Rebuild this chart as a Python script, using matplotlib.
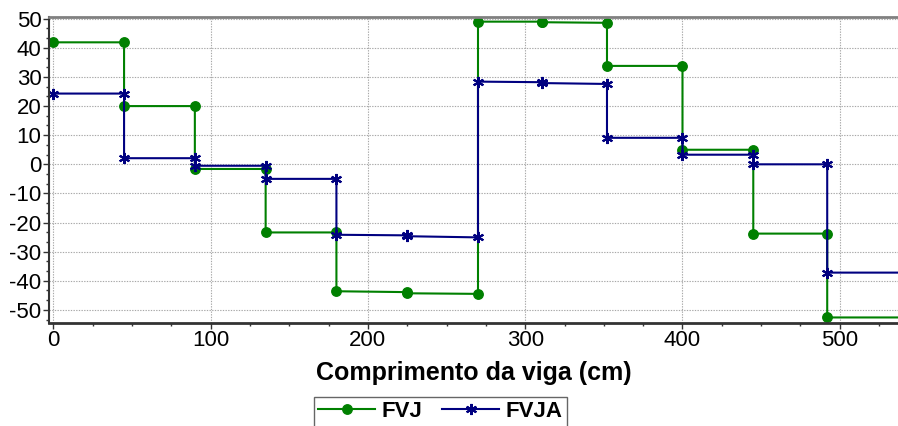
import numpy as np
import matplotlib.pyplot as plt
from matplotlib.ticker import MultipleLocator

plt.rcParams['font.family'] = ['Liberation Sans', 'DejaVu Sans']
plt.rcParams['axes.unicode_minus'] = False

# section boundaries along the beam (cm)
nodes = [0, 45, 90, 135, 180, 225, 270, 311, 352, 400, 445, 492, 540]

# value at start / end of each section
fvj_start = [41.9, 20.0, -1.6, -23.4, -43.6, -44.3, 49.0, 48.8, 33.8, 5.0, -23.8, -52.6]
fvj_end = [41.9, 20.0, -1.6, -23.4, -43.9, -44.5, 49.0, 48.6, 33.8, 5.0, -23.8, -52.6]
fvja_start = [24.3, 2.1, -0.5, -5.0, -24.2, -24.7, 28.4, 27.9, 9.1, 3.3, 0.0, -37.2]
fvja_end = [24.3, 2.1, -0.5, -5.0, -24.4, -25.1, 28.2, 27.6, 9.1, 3.3, 0.0, -37.2]


def steps(start, end):
    xs, ys = [], []
    for i in range(len(start)):
        xs += [nodes[i], nodes[i + 1]]
        ys += [start[i], end[i]]
    return xs, ys


fig = plt.figure(figsize=(8.98, 4.26), dpi=100)
ax = fig.add_axes([0.0546, 0.2425, 0.9454, 0.7183])

x1, y1 = steps(fvj_start, fvj_end)
x2, y2 = steps(fvja_start, fvja_end)
ax.plot(x1, y1, color='#008000', lw=1.5, marker='o', ms=6.8, label='FVJ')
ax.plot(x2, y2, color='#000080', lw=1.5, marker=(6, 2, 0), ms=8, mew=1.5,
        label='FVJA')

ax.set_xlim(-2.7, 537)
ax.set_ylim(-54.4, 50.7)
ax.xaxis.set_major_locator(MultipleLocator(100))
ax.xaxis.set_minor_locator(MultipleLocator(25))
ax.yaxis.set_major_locator(MultipleLocator(10))
ax.yaxis.set_minor_locator(MultipleLocator(10 / 3))
ax.grid(True, which='major', color='#a8a8a8', linestyle=(0, (1.2, 1.2)), lw=0.8)

ax.tick_params(which='major', direction='out', length=4, width=1, labelsize=16,
               pad=1.5, color='#333333')
ax.tick_params(which='minor', direction='out', length=2, width=1, color='#333333')

ax.spines['top'].set_color('#808080')
ax.spines['top'].set_linewidth(2)
ax.spines['bottom'].set_color('#333333')
ax.spines['bottom'].set_linewidth(2)
ax.spines['left'].set_color('#333333')
ax.spines['left'].set_linewidth(1.5)
ax.spines['right'].set_visible(False)

ax.set_xlabel('Comprimento da viga (cm)', fontsize=18, fontweight='bold',
              labelpad=7)

leg = fig.legend(loc='upper center', bbox_to_anchor=(0.4905, 0.0685), ncol=2,
                 frameon=True, fancybox=False, edgecolor='#404040',
                 prop={'size': 16, 'weight': 'bold'}, handlelength=2.55,
                 handletextpad=0.3, columnspacing=0.9, borderpad=0.2,
                 borderaxespad=0)
leg.get_frame().set_linewidth(1)

fig.savefig('out.png', dpi=100)
